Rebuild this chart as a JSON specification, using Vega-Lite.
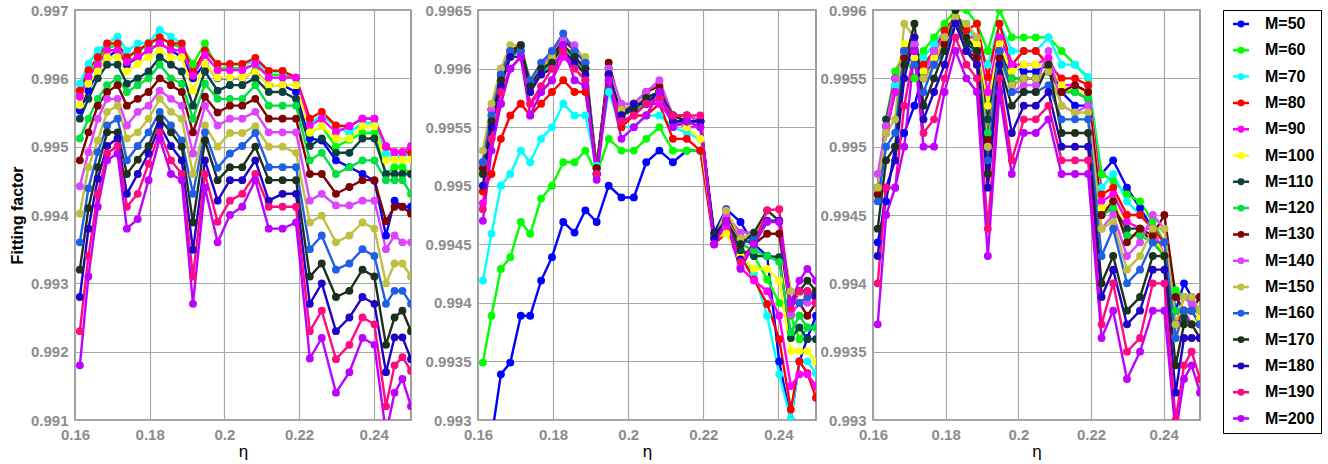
{
"$schema":"https://vega.github.io/schema/vega-lite/v6.json",
"background":"white",
"padding":{"left":8,"top":2,"right":4,"bottom":2},
"config":{
 "view":{"stroke":"#808080","strokeWidth":1.5},
 "font":"Liberation Sans",
 "axis":{"labelFont":"Liberation Sans","labelFontWeight":"bold","labelColor":"#8c8c8c","labelFontSize":15,"labelPadding":7,"labelFlush":false,"gridColor":"#a8a8a8","gridWidth":1.2,"gridOpacity":1,"domain":false,"ticks":false,"titleFont":"Liberation Sans","titleColor":"black"},
 "axisY":{"titleFontSize":16,"titleFontWeight":"bold","titlePadding":5},
 "axisX":{"titleFontSize":17,"titleFontWeight":"normal","titlePadding":1},
 "legend":{"labelFont":"Liberation Sans","labelFontSize":16,"labelFontWeight":"bold","labelColor":"black","strokeColor":"black","padding":6,"rowPadding":10.3,"offset":22,"symbolStrokeWidth":2.5,"labelOffset":20}
},
"data":{"values":[
{"p":1,"x":0.1613,"50":0.99553,"60":0.99575,"70":0.99592,"80":0.99582,"90":0.99573,"100":0.99561,"110":0.99541,"120":0.99512,"130":0.9948,"140":0.99442,"150":0.99402,"160":0.9936,"170":0.9932,"180":0.9928,"190":0.9923,"200":0.9918},
{"p":1,"x":0.1636,"50":0.99582,"60":0.99605,"70":0.99621,"80":0.99612,"90":0.99602,"100":0.99592,"110":0.9957,"120":0.99541,"130":0.99521,"140":0.99492,"150":0.9947,"160":0.99439,"170":0.9941,"180":0.9938,"190":0.9934,"200":0.9931},
{"p":1,"x":0.1661,"50":0.9961,"60":0.99625,"70":0.99641,"80":0.99631,"90":0.9962,"100":0.9961,"110":0.996,"120":0.9957,"130":0.9956,"140":0.99541,"150":0.99509,"160":0.99492,"170":0.9947,"180":0.99453,"190":0.99431,"200":0.99412},
{"p":1,"x":0.1686,"50":0.99631,"60":0.99645,"70":0.99651,"80":0.99651,"90":0.99641,"100":0.99631,"110":0.9962,"120":0.9959,"130":0.9958,"140":0.9957,"150":0.99551,"160":0.99531,"170":0.99521,"180":0.99501,"190":0.9949,"200":0.9948},
{"p":1,"x":0.1714,"50":0.99641,"60":0.99648,"70":0.99661,"80":0.99651,"90":0.99641,"100":0.99631,"110":0.9962,"120":0.996,"130":0.9959,"140":0.9957,"150":0.9956,"160":0.99541,"170":0.99521,"180":0.99512,"190":0.99501,"200":0.9949},
{"p":1,"x":0.1739,"50":0.9962,"60":0.9963,"70":0.9964,"80":0.99631,"90":0.99624,"100":0.9961,"110":0.99592,"120":0.9958,"130":0.9956,"140":0.99531,"150":0.99512,"160":0.9948,"170":0.9946,"180":0.99431,"190":0.99412,"200":0.9938},
{"p":1,"x":0.1768,"50":0.99631,"60":0.9964,"70":0.99651,"80":0.99641,"90":0.99631,"100":0.99621,"110":0.996,"120":0.9959,"130":0.9957,"140":0.99551,"150":0.99521,"160":0.99501,"170":0.99481,"180":0.9946,"190":0.99431,"200":0.99394},
{"p":1,"x":0.1797,"50":0.99641,"60":0.99648,"70":0.99652,"80":0.99651,"90":0.99641,"100":0.99631,"110":0.9961,"120":0.996,"130":0.9958,"140":0.9956,"150":0.99541,"160":0.99521,"170":0.99501,"180":0.9949,"190":0.99475,"200":0.99451},
{"p":1,"x":0.1827,"50":0.99651,"60":0.9966,"70":0.99671,"80":0.9966,"90":0.99651,"100":0.99641,"110":0.99631,"120":0.9962,"130":0.996,"140":0.99582,"150":0.9957,"160":0.99551,"170":0.99541,"180":0.99531,"190":0.99521,"200":0.99512},
{"p":1,"x":0.1857,"50":0.99641,"60":0.9965,"70":0.99661,"80":0.99651,"90":0.99641,"100":0.99631,"110":0.9962,"120":0.996,"130":0.9959,"140":0.9957,"150":0.99551,"160":0.99531,"170":0.99521,"180":0.99501,"190":0.9948,"200":0.9946},
{"p":1,"x":0.1886,"50":0.99631,"60":0.99645,"70":0.99651,"80":0.99651,"90":0.99641,"100":0.99631,"110":0.9961,"120":0.99592,"130":0.9958,"140":0.9956,"150":0.99541,"160":0.99509,"170":0.995,"180":0.9948,"190":0.9946,"200":0.99451},
{"p":1,"x":0.1916,"50":0.996,"60":0.99621,"70":0.99605,"80":0.99609,"90":0.99604,"100":0.99582,"110":0.9956,"120":0.99541,"130":0.99521,"140":0.9949,"150":0.9946,"160":0.99431,"170":0.99389,"180":0.99349,"190":0.9931,"200":0.9927},
{"p":1,"x":0.1948,"50":0.99621,"60":0.99651,"70":0.99641,"80":0.99641,"90":0.99634,"100":0.99621,"110":0.9961,"120":0.99592,"130":0.99573,"140":0.9956,"150":0.99531,"160":0.99521,"170":0.99509,"180":0.9948,"190":0.9946,"200":0.9944},
{"p":1,"x":0.1982,"50":0.996,"60":0.99615,"70":0.99621,"80":0.99621,"90":0.99612,"100":0.99601,"110":0.99582,"120":0.9957,"130":0.9955,"140":0.99531,"150":0.995,"160":0.99469,"170":0.99451,"180":0.99421,"190":0.9939,"200":0.9936},
{"p":1,"x":0.2015,"50":0.996,"60":0.99615,"70":0.9962,"80":0.99621,"90":0.99612,"100":0.99601,"110":0.9959,"120":0.9957,"130":0.9956,"140":0.99541,"150":0.9952,"160":0.9949,"170":0.9947,"180":0.99451,"190":0.99421,"200":0.994},
{"p":1,"x":0.2048,"50":0.996,"60":0.99615,"70":0.9962,"80":0.99621,"90":0.99612,"100":0.99601,"110":0.9959,"120":0.9957,"130":0.9956,"140":0.99541,"150":0.9952,"160":0.99501,"170":0.9947,"180":0.99451,"190":0.99431,"200":0.99412},
{"p":1,"x":0.2083,"50":0.9961,"60":0.9962,"70":0.99625,"80":0.9963,"90":0.99621,"100":0.99609,"110":0.996,"120":0.9959,"130":0.9957,"140":0.99551,"150":0.9953,"160":0.9952,"170":0.995,"180":0.9948,"190":0.9946,"200":0.99451},
{"p":1,"x":0.2119,"50":0.9959,"60":0.99605,"70":0.9961,"80":0.99611,"90":0.99601,"100":0.9959,"110":0.9958,"120":0.9956,"130":0.99541,"140":0.99521,"150":0.995,"160":0.9947,"170":0.99451,"180":0.99421,"190":0.99412,"200":0.9938},
{"p":1,"x":0.2156,"50":0.9959,"60":0.99605,"70":0.9961,"80":0.99611,"90":0.99601,"100":0.9959,"110":0.9958,"120":0.9956,"130":0.99541,"140":0.99521,"150":0.995,"160":0.9947,"170":0.99451,"180":0.99431,"190":0.99412,"200":0.9938},
{"p":1,"x":0.2192,"50":0.9958,"60":0.996,"70":0.996,"80":0.99601,"90":0.99601,"100":0.9959,"110":0.9957,"120":0.9956,"130":0.99541,"140":0.99521,"150":0.99491,"160":0.9947,"170":0.99451,"180":0.99431,"190":0.99412,"200":0.99389},
{"p":1,"x":0.2229,"50":0.99512,"60":0.9952,"70":0.99535,"80":0.99541,"90":0.99531,"100":0.99521,"110":0.99501,"120":0.9948,"130":0.9946,"140":0.99421,"150":0.99389,"160":0.9935,"170":0.9931,"180":0.9927,"190":0.9923,"200":0.9919},
{"p":1,"x":0.2261,"50":0.99509,"60":0.9953,"70":0.99545,"80":0.99551,"90":0.99541,"100":0.9953,"110":0.99512,"120":0.99491,"130":0.9946,"140":0.99431,"150":0.99399,"160":0.9937,"170":0.99329,"180":0.993,"190":0.9926,"200":0.9922},
{"p":1,"x":0.2299,"50":0.9948,"60":0.995,"70":0.9953,"80":0.99531,"90":0.99521,"100":0.99512,"110":0.99491,"120":0.9946,"130":0.99431,"140":0.99414,"150":0.9936,"160":0.9932,"170":0.9928,"180":0.9923,"190":0.99189,"200":0.9914},
{"p":1,"x":0.2335,"50":0.9947,"60":0.9951,"70":0.9952,"80":0.9953,"90":0.9953,"100":0.99512,"110":0.99491,"120":0.9947,"130":0.99441,"140":0.99414,"150":0.9937,"160":0.99329,"170":0.99289,"180":0.9925,"190":0.9921,"200":0.9917},
{"p":1,"x":0.237,"50":0.9946,"60":0.9952,"70":0.99535,"80":0.99541,"90":0.99541,"100":0.9953,"110":0.99512,"120":0.9948,"130":0.99451,"140":0.99421,"150":0.99389,"160":0.9935,"170":0.9932,"180":0.9928,"190":0.9925,"200":0.9922},
{"p":1,"x":0.2402,"50":0.9945,"60":0.9952,"70":0.99535,"80":0.99541,"90":0.99541,"100":0.9953,"110":0.99512,"120":0.9948,"130":0.99451,"140":0.99421,"150":0.9938,"160":0.9934,"170":0.9931,"180":0.9927,"190":0.9924,"200":0.9921},
{"p":1,"x":0.2433,"50":0.9937,"60":0.9946,"70":0.9949,"80":0.995,"90":0.99501,"100":0.9948,"110":0.9946,"120":0.99451,"130":0.99391,"140":0.9935,"150":0.993,"160":0.9927,"170":0.9921,"180":0.9917,"190":0.9912,"200":0.9908},
{"p":1,"x":0.2456,"50":0.99421,"60":0.9947,"70":0.99485,"80":0.99492,"90":0.99492,"100":0.99481,"110":0.9946,"120":0.99451,"130":0.99412,"140":0.9937,"150":0.99329,"160":0.99289,"170":0.9925,"180":0.99221,"190":0.9918,"200":0.9914},
{"p":1,"x":0.2477,"50":0.99412,"60":0.9947,"70":0.99485,"80":0.99492,"90":0.99492,"100":0.99481,"110":0.9946,"120":0.99451,"130":0.99412,"140":0.9936,"150":0.99329,"160":0.99289,"170":0.9926,"180":0.99221,"190":0.99192,"200":0.9916},
{"p":1,"x":0.25,"50":0.99412,"60":0.9946,"70":0.9949,"80":0.99492,"90":0.99501,"100":0.99481,"110":0.9946,"120":0.99431,"130":0.99402,"140":0.9936,"150":0.9931,"160":0.9927,"170":0.9923,"180":0.99189,"190":0.99172,"200":0.9912},
{"p":2,"x":0.1613,"50":0.9925,"60":0.99349,"70":0.99419,"80":0.99495,"90":0.99485,"100":0.9952,"110":0.9952,"120":0.99515,"130":0.99515,"140":0.9952,"150":0.9953,"160":0.9952,"170":0.9951,"180":0.995,"190":0.9948,"200":0.9947},
{"p":2,"x":0.1636,"50":0.99285,"60":0.99389,"70":0.99459,"80":0.9951,"90":0.9954,"100":0.9956,"110":0.99565,"120":0.9956,"130":0.99565,"140":0.99565,"150":0.9957,"160":0.9956,"170":0.99555,"180":0.9955,"190":0.9954,"200":0.9953},
{"p":2,"x":0.1661,"50":0.99339,"60":0.99429,"70":0.995,"80":0.9954,"90":0.9957,"100":0.9959,"110":0.99595,"120":0.9959,"130":0.99595,"140":0.996,"150":0.996,"160":0.99595,"170":0.9959,"180":0.99585,"190":0.9958,"200":0.9957},
{"p":2,"x":0.1686,"50":0.99349,"60":0.99439,"70":0.9951,"80":0.9956,"90":0.996,"100":0.9961,"110":0.99615,"120":0.9961,"130":0.99615,"140":0.99615,"150":0.9962,"160":0.99615,"170":0.9961,"180":0.9961,"190":0.996,"200":0.996},
{"p":2,"x":0.1714,"50":0.99389,"60":0.99469,"70":0.9953,"80":0.9957,"90":0.9961,"100":0.99615,"110":0.9962,"120":0.99615,"130":0.9962,"140":0.99615,"150":0.9962,"160":0.99615,"170":0.9962,"180":0.9961,"190":0.9961,"200":0.9961},
{"p":2,"x":0.1739,"50":0.99389,"60":0.99459,"70":0.9952,"80":0.9956,"90":0.9957,"100":0.9958,"110":0.99585,"120":0.9958,"130":0.99585,"140":0.99585,"150":0.9959,"160":0.9959,"170":0.99585,"180":0.9958,"190":0.9957,"200":0.9956},
{"p":2,"x":0.1768,"50":0.99419,"60":0.99489,"70":0.9954,"80":0.9957,"90":0.9958,"100":0.99595,"110":0.99595,"120":0.99595,"130":0.996,"140":0.996,"150":0.996,"160":0.99605,"170":0.996,"180":0.99595,"190":0.99585,"200":0.9958},
{"p":2,"x":0.1797,"50":0.99439,"60":0.995,"70":0.9955,"80":0.9958,"90":0.9959,"100":0.996,"110":0.9961,"120":0.99605,"130":0.9961,"140":0.99615,"150":0.9961,"160":0.99615,"170":0.99605,"180":0.996,"190":0.996,"200":0.9959},
{"p":2,"x":0.1827,"50":0.99469,"60":0.9952,"70":0.9957,"80":0.9959,"90":0.9961,"100":0.99615,"110":0.9962,"120":0.9962,"130":0.99625,"140":0.99625,"150":0.99615,"160":0.9963,"170":0.9962,"180":0.99615,"190":0.99615,"200":0.9962},
{"p":2,"x":0.1857,"50":0.9946,"60":0.9952,"70":0.9956,"80":0.9958,"90":0.996,"100":0.996,"110":0.9961,"120":0.99605,"130":0.99615,"140":0.9962,"150":0.99615,"160":0.99615,"170":0.9961,"180":0.99605,"190":0.996,"200":0.9959},
{"p":2,"x":0.1886,"50":0.99479,"60":0.9953,"70":0.9956,"80":0.9958,"90":0.9959,"100":0.99595,"110":0.996,"120":0.996,"130":0.99605,"140":0.99605,"150":0.9961,"160":0.99605,"170":0.996,"180":0.99595,"190":0.9959,"200":0.99585},
{"p":2,"x":0.1916,"50":0.99469,"60":0.9951,"70":0.99517,"80":0.99515,"90":0.9951,"100":0.99515,"110":0.99515,"120":0.99515,"130":0.99515,"140":0.9951,"150":0.9951,"160":0.9951,"170":0.9951,"180":0.9951,"190":0.9951,"200":0.99505},
{"p":2,"x":0.1948,"50":0.995,"60":0.9954,"70":0.9958,"80":0.9959,"90":0.996,"100":0.996,"110":0.996,"120":0.996,"130":0.99605,"140":0.996,"150":0.99595,"160":0.99595,"170":0.99595,"180":0.99595,"190":0.9959,"200":0.9959},
{"p":2,"x":0.1982,"50":0.9949,"60":0.9953,"70":0.9955,"80":0.9955,"90":0.99555,"100":0.9956,"110":0.99565,"120":0.9956,"130":0.99565,"140":0.9957,"150":0.99565,"160":0.9956,"170":0.9956,"180":0.9956,"190":0.99555,"200":0.9954},
{"p":2,"x":0.2015,"50":0.9949,"60":0.9953,"70":0.9955,"80":0.9956,"90":0.9956,"100":0.99565,"110":0.99565,"120":0.99565,"130":0.9957,"140":0.9957,"150":0.9957,"160":0.99565,"170":0.99565,"180":0.9957,"190":0.9956,"200":0.9955},
{"p":2,"x":0.2048,"50":0.9952,"60":0.9954,"70":0.9956,"80":0.9956,"90":0.9957,"100":0.9957,"110":0.9957,"120":0.9957,"130":0.9958,"140":0.9958,"150":0.99575,"160":0.99575,"170":0.99575,"180":0.9957,"190":0.9957,"200":0.9956},
{"p":2,"x":0.2083,"50":0.9953,"60":0.9955,"70":0.9956,"80":0.9957,"90":0.9957,"100":0.99575,"110":0.9958,"120":0.99575,"130":0.99585,"140":0.9959,"150":0.9958,"160":0.9958,"170":0.9958,"180":0.9958,"190":0.99575,"200":0.9958},
{"p":2,"x":0.2119,"50":0.9952,"60":0.9953,"70":0.9955,"80":0.9954,"90":0.99555,"100":0.9956,"110":0.9956,"120":0.99555,"130":0.9956,"140":0.9956,"150":0.9956,"160":0.9956,"170":0.9956,"180":0.99555,"190":0.9956,"200":0.9955},
{"p":2,"x":0.2156,"50":0.9953,"60":0.9953,"70":0.99545,"80":0.9954,"90":0.9955,"100":0.9955,"110":0.9956,"120":0.99555,"130":0.9956,"140":0.9956,"150":0.99555,"160":0.99555,"170":0.99555,"180":0.99555,"190":0.9956,"200":0.99555},
{"p":2,"x":0.2192,"50":0.9953,"60":0.9953,"70":0.9954,"80":0.9953,"90":0.9955,"100":0.9954,"110":0.99555,"120":0.9955,"130":0.99555,"140":0.99555,"150":0.99555,"160":0.99555,"170":0.99555,"180":0.99555,"190":0.9956,"200":0.9955},
{"p":2,"x":0.2229,"50":0.9946,"60":0.99455,"70":0.9945,"80":0.9945,"90":0.9945,"100":0.99455,"110":0.99455,"120":0.99455,"130":0.99455,"140":0.99455,"150":0.99455,"160":0.99455,"170":0.99459,"180":0.99455,"190":0.9945,"200":0.9945},
{"p":2,"x":0.2261,"50":0.9948,"60":0.9947,"70":0.99465,"80":0.9946,"90":0.99465,"100":0.99459,"110":0.9947,"120":0.9947,"130":0.99475,"140":0.99475,"150":0.99479,"160":0.9947,"170":0.9947,"180":0.9947,"190":0.9947,"200":0.99469},
{"p":2,"x":0.2299,"50":0.99469,"60":0.99445,"70":0.9944,"80":0.9944,"90":0.9943,"100":0.9944,"110":0.99445,"120":0.9945,"130":0.99455,"140":0.9946,"150":0.99455,"160":0.9945,"170":0.9945,"180":0.99437,"190":0.99435,"200":0.99429},
{"p":2,"x":0.2335,"50":0.9945,"60":0.9944,"70":0.99425,"80":0.9942,"90":0.99419,"100":0.99429,"110":0.9944,"120":0.99445,"130":0.9945,"140":0.9946,"150":0.9946,"160":0.99455,"170":0.9946,"180":0.9945,"190":0.9945,"200":0.9945},
{"p":2,"x":0.237,"50":0.9944,"60":0.9942,"70":0.99389,"80":0.99399,"90":0.9941,"100":0.99429,"110":0.9944,"120":0.9944,"130":0.99459,"140":0.9947,"150":0.9947,"160":0.9947,"170":0.99479,"180":0.9947,"190":0.99479,"200":0.99469},
{"p":2,"x":0.2402,"50":0.9935,"60":0.994,"70":0.99339,"80":0.99369,"90":0.99389,"100":0.99419,"110":0.99439,"120":0.99435,"130":0.99459,"140":0.9947,"150":0.9947,"160":0.9947,"170":0.9947,"180":0.9947,"190":0.9948,"200":0.99469},
{"p":2,"x":0.2433,"50":0.993,"60":0.99389,"70":0.993,"80":0.99309,"90":0.99329,"100":0.99359,"110":0.9937,"120":0.99375,"130":0.9939,"140":0.9939,"150":0.9941,"160":0.994,"170":0.994,"180":0.994,"190":0.99395,"200":0.994},
{"p":2,"x":0.2456,"50":0.9935,"60":0.99369,"70":0.9935,"80":0.9935,"90":0.99339,"100":0.99359,"110":0.99379,"120":0.99389,"130":0.994,"140":0.994,"150":0.99409,"160":0.994,"170":0.9941,"180":0.9941,"190":0.9941,"200":0.99419},
{"p":2,"x":0.2477,"50":0.9937,"60":0.99379,"70":0.9935,"80":0.9934,"90":0.99339,"100":0.99359,"110":0.99369,"120":0.99379,"130":0.99389,"140":0.994,"150":0.99409,"160":0.99405,"170":0.99419,"180":0.9941,"190":0.9941,"200":0.99429},
{"p":2,"x":0.25,"50":0.99389,"60":0.99379,"70":0.9934,"80":0.99319,"90":0.99329,"100":0.9935,"110":0.99369,"120":0.99379,"130":0.994,"140":0.994,"150":0.99409,"160":0.9941,"170":0.9941,"180":0.99405,"190":0.994,"200":0.99419},
{"p":3,"x":0.1613,"50":0.9943,"60":0.9947,"70":0.9947,"80":0.9947,"90":0.9947,"100":0.9947,"110":0.9947,"120":0.99465,"130":0.99465,"140":0.9948,"150":0.9947,"160":0.9946,"170":0.9944,"180":0.9942,"190":0.994,"200":0.9937},
{"p":3,"x":0.1636,"50":0.9946,"60":0.9952,"70":0.9951,"80":0.9951,"90":0.9951,"100":0.9952,"110":0.9952,"120":0.99515,"130":0.99515,"140":0.99515,"150":0.9951,"160":0.995,"170":0.9949,"180":0.9947,"190":0.9947,"200":0.9945},
{"p":3,"x":0.1661,"50":0.995,"60":0.99555,"70":0.99545,"80":0.9954,"90":0.9954,"100":0.9955,"110":0.9955,"120":0.9955,"130":0.9955,"140":0.9955,"150":0.9952,"160":0.9951,"170":0.995,"180":0.9949,"190":0.9947,"200":0.9947},
{"p":3,"x":0.1686,"50":0.9951,"60":0.9957,"70":0.99565,"80":0.9957,"90":0.99565,"100":0.99575,"110":0.9957,"120":0.99565,"130":0.99565,"140":0.9957,"150":0.9959,"160":0.9957,"170":0.9956,"180":0.9955,"190":0.9953,"200":0.995},
{"p":3,"x":0.1714,"50":0.9953,"60":0.9955,"70":0.9957,"80":0.9957,"90":0.9957,"100":0.99565,"110":0.9958,"120":0.99575,"130":0.99575,"140":0.99575,"150":0.9958,"160":0.9956,"170":0.9959,"180":0.9958,"190":0.9957,"200":0.9957},
{"p":3,"x":0.1739,"50":0.99555,"60":0.9957,"70":0.99565,"80":0.9956,"90":0.99555,"100":0.99555,"110":0.9955,"120":0.9955,"130":0.9955,"140":0.9955,"150":0.9955,"160":0.9954,"170":0.9953,"180":0.9952,"190":0.9951,"200":0.995},
{"p":3,"x":0.1768,"50":0.9956,"60":0.9958,"70":0.99575,"80":0.9957,"90":0.9957,"100":0.99565,"110":0.9956,"120":0.9956,"130":0.9956,"140":0.9957,"150":0.9956,"160":0.9956,"170":0.9955,"180":0.9954,"190":0.9952,"200":0.995},
{"p":3,"x":0.1797,"50":0.9958,"60":0.9959,"70":0.99585,"80":0.99585,"90":0.9958,"100":0.9958,"110":0.99575,"120":0.99575,"130":0.99575,"140":0.9958,"150":0.9958,"160":0.9957,"170":0.9957,"180":0.9956,"190":0.9955,"200":0.9954},
{"p":3,"x":0.1827,"50":0.9959,"60":0.996,"70":0.99595,"80":0.99595,"90":0.9959,"100":0.99595,"110":0.99595,"120":0.9959,"130":0.9959,"140":0.9959,"150":0.99595,"160":0.9959,"170":0.996,"180":0.9959,"190":0.9958,"200":0.9957},
{"p":3,"x":0.1857,"50":0.9957,"60":0.996,"70":0.9959,"80":0.99585,"90":0.9958,"100":0.9958,"110":0.99575,"120":0.9957,"130":0.9957,"140":0.9957,"150":0.9959,"160":0.9957,"170":0.9958,"180":0.9957,"190":0.9956,"200":0.9955},
{"p":3,"x":0.1886,"50":0.9957,"60":0.9959,"70":0.99575,"80":0.9959,"90":0.9958,"100":0.99575,"110":0.9957,"120":0.99565,"130":0.99565,"140":0.9956,"150":0.9958,"160":0.9957,"170":0.9957,"180":0.9956,"190":0.9955,"200":0.9954},
{"p":3,"x":0.1916,"50":0.9953,"60":0.9957,"70":0.9956,"80":0.99551,"90":0.9954,"100":0.9953,"110":0.9952,"120":0.9951,"130":0.99505,"140":0.995,"150":0.995,"160":0.9949,"170":0.9948,"180":0.9947,"190":0.9944,"200":0.9942},
{"p":3,"x":0.1948,"50":0.9957,"60":0.996,"70":0.9959,"80":0.9959,"90":0.9958,"100":0.99575,"110":0.9957,"120":0.99565,"130":0.99565,"140":0.9957,"150":0.9956,"160":0.9957,"170":0.9956,"180":0.9956,"190":0.9955,"200":0.9954},
{"p":3,"x":0.1982,"50":0.9956,"60":0.9958,"70":0.9957,"80":0.9956,"90":0.9956,"100":0.99555,"110":0.9955,"120":0.9955,"130":0.99545,"140":0.9954,"150":0.99545,"160":0.9954,"170":0.9953,"180":0.9951,"190":0.9949,"200":0.9948},
{"p":3,"x":0.2015,"50":0.99555,"60":0.9958,"70":0.9957,"80":0.9957,"90":0.9956,"100":0.9956,"110":0.9955,"120":0.9955,"130":0.9955,"140":0.99545,"150":0.9955,"160":0.9954,"170":0.9954,"180":0.9953,"190":0.9952,"200":0.9951},
{"p":3,"x":0.2048,"50":0.99555,"60":0.9958,"70":0.9957,"80":0.9957,"90":0.9956,"100":0.9956,"110":0.9955,"120":0.9955,"130":0.9955,"140":0.99545,"150":0.9955,"160":0.9954,"170":0.9954,"180":0.9953,"190":0.9952,"200":0.9951},
{"p":3,"x":0.2083,"50":0.9956,"60":0.9958,"70":0.9958,"80":0.9956,"90":0.99565,"100":0.9956,"110":0.99555,"120":0.99555,"130":0.99555,"140":0.9957,"150":0.99555,"160":0.99545,"170":0.9956,"180":0.9954,"190":0.9953,"200":0.9952},
{"p":3,"x":0.2119,"50":0.9954,"60":0.9957,"70":0.9956,"80":0.9955,"90":0.99545,"100":0.99545,"110":0.9954,"120":0.9954,"130":0.9954,"140":0.9953,"150":0.9953,"160":0.9952,"170":0.9951,"180":0.995,"190":0.9949,"200":0.9948},
{"p":3,"x":0.2156,"50":0.9953,"60":0.9956,"70":0.9956,"80":0.9955,"90":0.99545,"100":0.9954,"110":0.9954,"120":0.9954,"130":0.99545,"140":0.99525,"150":0.99525,"160":0.9952,"170":0.9951,"180":0.995,"190":0.9949,"200":0.9948},
{"p":3,"x":0.2192,"50":0.9953,"60":0.9955,"70":0.99551,"80":0.99545,"90":0.9954,"100":0.9954,"110":0.99535,"120":0.99535,"130":0.9954,"140":0.9953,"150":0.99525,"160":0.9952,"170":0.9951,"180":0.995,"190":0.9949,"200":0.9948},
{"p":3,"x":0.2229,"50":0.9948,"60":0.9948,"70":0.9947,"80":0.99465,"90":0.9946,"100":0.99455,"110":0.9945,"120":0.9945,"130":0.9945,"140":0.9944,"150":0.9944,"160":0.9942,"170":0.994,"180":0.9939,"190":0.9937,"200":0.9936},
{"p":3,"x":0.2261,"50":0.9949,"60":0.99475,"70":0.9948,"80":0.9947,"90":0.99465,"100":0.9946,"110":0.99455,"120":0.99455,"130":0.9946,"140":0.9945,"150":0.99445,"160":0.9944,"170":0.9942,"180":0.9941,"190":0.994,"200":0.9938},
{"p":3,"x":0.2299,"50":0.9947,"60":0.99465,"70":0.9946,"80":0.9945,"90":0.99445,"100":0.9944,"110":0.9944,"120":0.99435,"130":0.9943,"140":0.9942,"150":0.9941,"160":0.994,"170":0.9938,"180":0.9937,"190":0.9935,"200":0.9933},
{"p":3,"x":0.2335,"50":0.99455,"60":0.9946,"70":0.9945,"80":0.9945,"90":0.9944,"100":0.9944,"110":0.9944,"120":0.99435,"130":0.9944,"140":0.9943,"150":0.9942,"160":0.9941,"170":0.9939,"180":0.9938,"190":0.9936,"200":0.9935},
{"p":3,"x":0.237,"50":0.9944,"60":0.99445,"70":0.9944,"80":0.9944,"90":0.9944,"100":0.99435,"110":0.9943,"120":0.9943,"130":0.99435,"140":0.9945,"150":0.9944,"160":0.9943,"170":0.9942,"180":0.9941,"190":0.994,"200":0.9938},
{"p":3,"x":0.2402,"50":0.9943,"60":0.9943,"70":0.9943,"80":0.9943,"90":0.9942,"100":0.9942,"110":0.9942,"120":0.9942,"130":0.9945,"140":0.9944,"150":0.9944,"160":0.9943,"170":0.9942,"180":0.9941,"190":0.994,"200":0.9938},
{"p":3,"x":0.2433,"50":0.9938,"60":0.99395,"70":0.9939,"80":0.9937,"90":0.9936,"100":0.9936,"110":0.9937,"120":0.9938,"130":0.9939,"140":0.9937,"150":0.9937,"160":0.9936,"170":0.9934,"180":0.9932,"190":0.993,"200":0.9929},
{"p":3,"x":0.2456,"50":0.994,"60":0.9939,"70":0.9938,"80":0.9938,"90":0.9938,"100":0.99375,"110":0.99375,"120":0.9938,"130":0.9938,"140":0.9939,"150":0.9939,"160":0.9938,"170":0.9937,"180":0.9936,"190":0.9934,"200":0.9933},
{"p":3,"x":0.2477,"50":0.9939,"60":0.99385,"70":0.9938,"80":0.9938,"90":0.9937,"100":0.9937,"110":0.9937,"120":0.9938,"130":0.9938,"140":0.99385,"150":0.9939,"160":0.9938,"170":0.9937,"180":0.9936,"190":0.9935,"200":0.9934},
{"p":3,"x":0.25,"50":0.9939,"60":0.9938,"70":0.9938,"80":0.9937,"90":0.9937,"100":0.99375,"110":0.9937,"120":0.9938,"130":0.9939,"140":0.9938,"150":0.9938,"160":0.9937,"170":0.9936,"180":0.9936,"190":0.9933,"200":0.9932}
]},
"transform":[{"fold":["50","60","70","80","90","100","110","120","130","140","150","160","170","180","190","200"],"as":["M","FF"]}],
"resolve":{"scale":{"color":"shared"},"legend":{"color":"shared"}},
"spacing":12,
"hconcat":[
{"width":336,"height":410,
 "transform":[{"filter":"datum.p==1"}],
 "encoding":{
  "x":{"field":"x","type":"quantitative","scale":{"domain":[0.16,0.25],"nice":false,"zero":false},"axis":{"values":[0.16,0.18,0.2,0.22,0.24],"format":"~g","title":"η"}},
  "y":{"field":"FF","type":"quantitative","scale":{"domain":[0.991,0.997],"nice":false,"zero":false},"axis":{"values":[0.991,0.992,0.993,0.994,0.995,0.996,0.997],"format":"~g","title":"Fitting factor","titleFontSize":16,"titleFontWeight":"bold"}},
  "color":{"field":"M","type":"nominal","scale":{"domain":["50","60","70","80","90","100","110","120","130","140","150","160","170","180","190","200"],"range":["#0000ff","#00ff00","#00ffff","#ff0000","#ff00ff","#ffff00","#0a4040","#00e040","#800000","#dd44ff","#bfbf40","#1f5fe6","#1c301c","#1f00c4","#ff0a80","#bf00ff"]},"legend":{"title":null,"labelExpr":"'M=' + datum.label","symbolType":"M-1,0L3,0M1.55,0A0.55,0.55,0,1,1,0.45,0A0.55,0.55,0,1,1,1.55,0","symbolSize":64}}
 },
 "layer":[{"mark":{"type":"line","strokeWidth":2.4,"clip":true}},{"mark":{"type":"circle","size":62,"opacity":1,"clip":true}}]
},
{"hconcat":[
{"width":338,"height":410,
 "transform":[{"filter":"datum.p==2"}],
 "encoding":{
  "x":{"field":"x","type":"quantitative","scale":{"domain":[0.16,0.25],"nice":false,"zero":false},"axis":{"values":[0.16,0.18,0.2,0.22,0.24],"format":"~g","title":"η"}},
  "y":{"field":"FF","type":"quantitative","scale":{"domain":[0.993,0.9965],"nice":false,"zero":false},"axis":{"values":[0.993,0.9935,0.994,0.9945,0.995,0.9955,0.996,0.9965],"format":"~g","title":null}},
  "color":{"field":"M","type":"nominal","scale":{"domain":["50","60","70","80","90","100","110","120","130","140","150","160","170","180","190","200"],"range":["#0000ff","#00ff00","#00ffff","#ff0000","#ff00ff","#ffff00","#0a4040","#00e040","#800000","#dd44ff","#bfbf40","#1f5fe6","#1c301c","#1f00c4","#ff0a80","#bf00ff"]},"legend":{"title":null,"labelExpr":"'M=' + datum.label","symbolType":"M-1,0L3,0M1.55,0A0.55,0.55,0,1,1,0.45,0A0.55,0.55,0,1,1,1.55,0","symbolSize":64}}
 },
 "layer":[{"mark":{"type":"line","strokeWidth":2.4,"clip":true}},{"mark":{"type":"circle","size":62,"opacity":1,"clip":true}}]
},
{"width":327,"height":410,
 "transform":[{"filter":"datum.p==3"}],
 "encoding":{
  "x":{"field":"x","type":"quantitative","scale":{"domain":[0.16,0.25],"nice":false,"zero":false},"axis":{"values":[0.16,0.18,0.2,0.22,0.24],"format":"~g","title":"η"}},
  "y":{"field":"FF","type":"quantitative","scale":{"domain":[0.993,0.996],"nice":false,"zero":false},"axis":{"values":[0.993,0.9935,0.994,0.9945,0.995,0.9955,0.996],"format":"~g","title":null}},
  "color":{"field":"M","type":"nominal","scale":{"domain":["50","60","70","80","90","100","110","120","130","140","150","160","170","180","190","200"],"range":["#0000ff","#00ff00","#00ffff","#ff0000","#ff00ff","#ffff00","#0a4040","#00e040","#800000","#dd44ff","#bfbf40","#1f5fe6","#1c301c","#1f00c4","#ff0a80","#bf00ff"]},"legend":{"title":null,"labelExpr":"'M=' + datum.label","symbolType":"M-1,0L3,0M1.55,0A0.55,0.55,0,1,1,0.45,0A0.55,0.55,0,1,1,1.55,0","symbolSize":64}}
 },
 "layer":[{"mark":{"type":"line","strokeWidth":2.4,"clip":true}},{"mark":{"type":"circle","size":62,"opacity":1,"clip":true}}]
}
],"spacing":2,"resolve":{"scale":{"color":"shared"},"legend":{"color":"shared"}}}
]
}
